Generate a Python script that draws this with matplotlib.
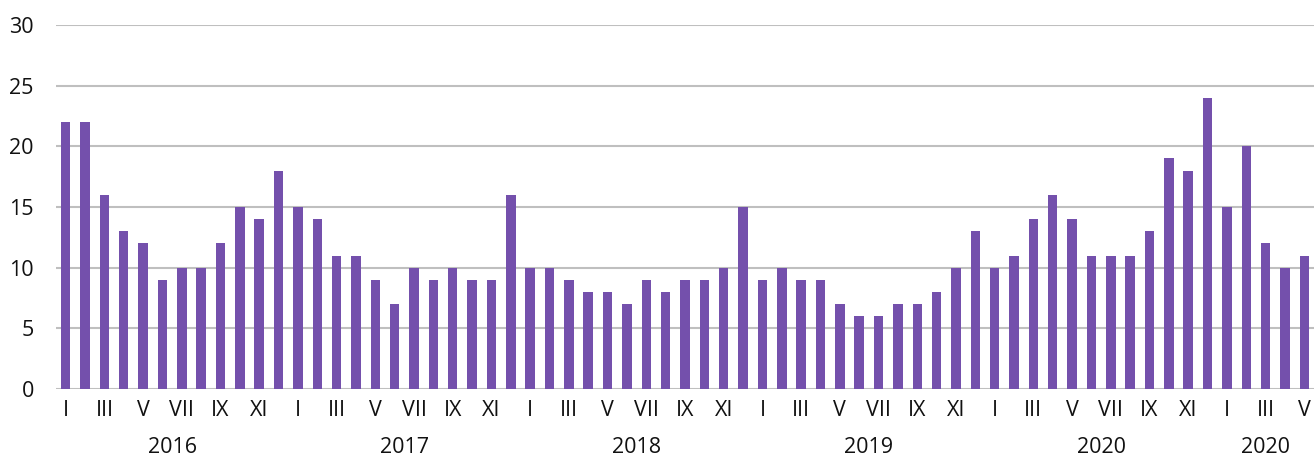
import matplotlib
matplotlib.use("Agg")
import matplotlib.pyplot as plt
import matplotlib.transforms as mtransforms

plt.rcParams['font.family'] = ['Open Sans', 'DejaVu Sans']

years = ["2016", "2017", "2018", "2019", "2020", "2020"]
months_per_year = [12, 12, 12, 12, 12, 5]
roman = ["I", "II", "III", "IV", "V", "VI", "VII", "VIII", "IX", "X", "XI", "XII"]

values = [
    22, 22, 16, 13, 12, 9, 10, 10, 12, 15, 14, 18,
    15, 14, 11, 11, 9, 7, 10, 9, 10, 9, 9, 16,
    10, 10, 9, 8, 8, 7, 9, 8, 9, 9, 10, 15,
    9, 10, 9, 9, 7, 6, 6, 7, 7, 8, 10, 13,
    10, 11, 14, 16, 14, 11, 11, 11, 13, 19, 18, 24,
    15, 20, 12, 10, 11,
]

bar_color = "#7450AC"
grid_color = "#BFBFBF"
text_color = "#111111"

fig = plt.figure(figsize=(13.14, 4.57), dpi=100)
ax = fig.add_axes([56/1314, 68/457, 1 - 56/1314, (389-25)/457])

x = list(range(len(values)))
ax.bar(x, values, width=0.49, color=bar_color, zorder=3)

ax.set_xlim(-0.5, len(values) - 0.5)
ax.set_ylim(0, 30)
ax.set_yticks([0, 5, 10, 15, 20, 25, 30])
ax.yaxis.grid(True, color=grid_color, linewidth=1.5, zorder=0)
for s in ax.spines.values():
    s.set_visible(False)
ax.tick_params(axis='y', length=0, pad=16, labelsize=15.5, labelcolor=text_color)

# month ticks (odd months)
ticks, labels = [], []
start = 0
for n in months_per_year:
    for m in range(0, n, 2):
        ticks.append(start + m)
        labels.append(roman[m])
    start += n
ax.set_xticks(ticks)
ax.set_xticklabels(labels)
ax.tick_params(axis='x', length=0, pad=8, labelsize=15.5, labelcolor=text_color)

# year labels
trans = mtransforms.blended_transform_factory(ax.transData, ax.transAxes)
start = 0
for yr, n in zip(years, months_per_year):
    center = start + (n - 1) / 2
    ax.text(center, -0.16, yr, transform=trans, ha='center', va='center',
            fontsize=15.5, color=text_color)
    start += n

fig.savefig("out.png", dpi=100)
